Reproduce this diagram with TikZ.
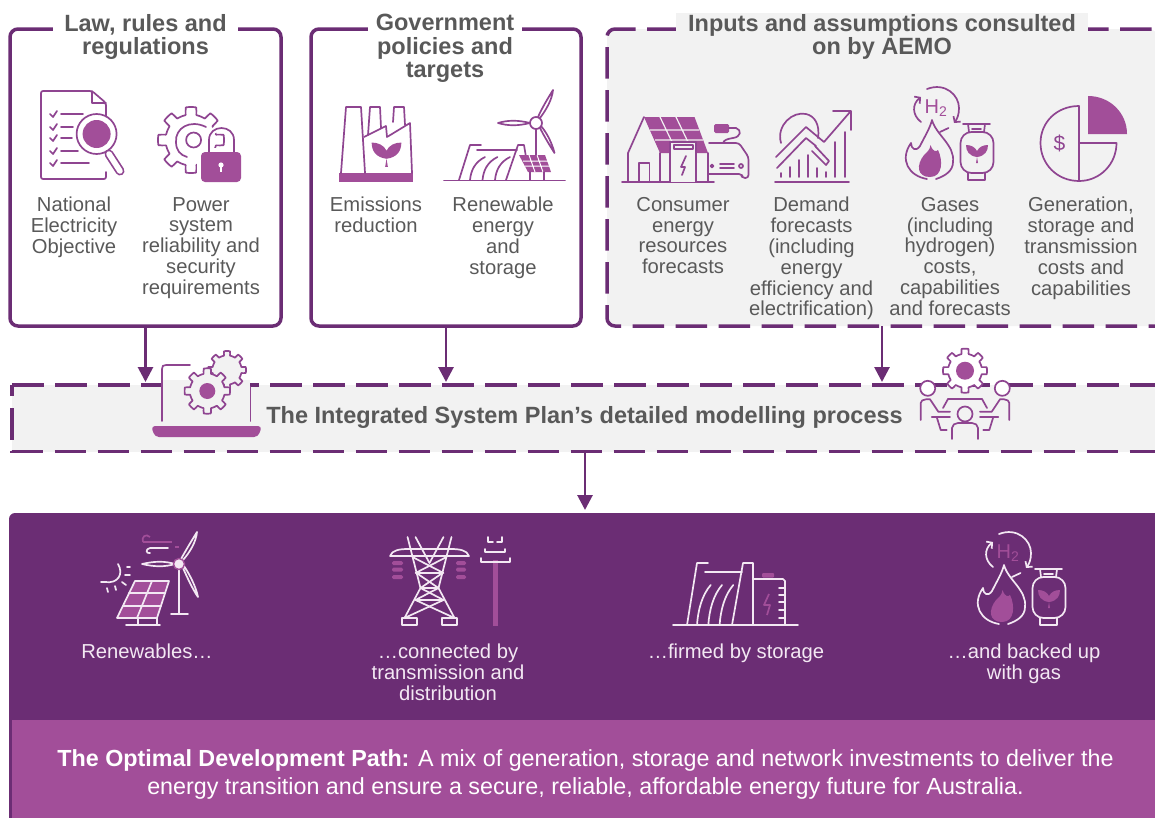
\documentclass[tikz,border=0pt]{standalone}
\usepackage{fontspec}
\setmainfont{Liberation Sans}
\usetikzlibrary{arrows.meta}
\definecolor{ispdark}{HTML}{6B2D74}
\definecolor{ispmid}{HTML}{A24E99}
\definecolor{ispline}{HTML}{8F4591}
\definecolor{ispgrey}{HTML}{F2F2F2}
\definecolor{isptext}{HTML}{595959}
\definecolor{ispwhite}{HTML}{F3E8F3}
\tikzset{
    framebox/.style = {draw = ispdark, line width = 3.5pt, rounded corners = 8pt, inner sep = 0pt, outer sep = 0pt},
    dashbox/.style = {fill = ispgrey, inner sep = 0pt, outer sep = 0pt},
    dashedge/.style = {draw = ispdark, line width = 3.5pt, dash pattern = on 31.5pt off 11.5pt},
    titlenode/.style = {font = \fontsize{23.5}{23.6}\selectfont\bfseries, text = isptext, align = center, anchor = north, inner ysep = 1pt},
    bodynode/.style = {font = \fontsize{20.2}{20.8}\selectfont, text = isptext, align = center, anchor = north, inner sep = 0pt},
    panelnode/.style = {font = \fontsize{20.2}{20.8}\selectfont, text = ispwhite, align = center, anchor = north, inner sep = 0pt},
    flow/.style = {draw = ispdark, line width = 2.8pt, shorten >= 3pt, -{Triangle[length = 15pt, width = 15pt]}},
    icon/.style = {draw = ispline, line width = 1.7pt, line join = round, line cap = round},
    wicon/.style = {draw = ispwhite, line width = 1.7pt, line join = round, line cap = round},
}
\providecommand\gearoutline[5]{% x, y, radius, teeth, style
    \draw[#5, shift = {(#1,#2)}] plot[domain = 0:360, samples = 241]
        (\x:{#3*(0.77+0.23*min(1,max(0,2.5*cos(#4*\x)+0.3)))}) -- cycle;
}
\providecommand\leafshape[4]{% x, y, colour, scale
    \fill[#3, shift = {(#1,#2)}, scale = #4] (0,5) .. controls (-8,4) and (-11,-1) .. (-11,-7)
        .. controls (-6,-7) and (-2,-5) .. (0,-1) .. controls (2,-5) and (6,-7) .. (11,-7)
        .. controls (11,-1) and (8,4) .. (0,5) -- (1,11) -- (-1,11) -- (0,5) -- cycle;
}
\providecommand\gasicon[6]{% shift x, shift y, line style, fill colour, H2 colour, name
    \begin{scope}[shift = {(#1,#2)}]
        \draw[#3] (927,179) .. controls (909,176) and (899,160) .. (911,143)
            .. controls (911,149) and (916,152) .. (920,146)
            .. controls (925,136) and (930,128) .. (932,120)
            .. controls (936,135) and (955,145) .. (953,162)
            .. controls (953,171) and (945,176) .. (936,179);
        \fill[#4] (930.5,145) .. controls (933,152) and (936,152) .. (938,150)
            .. controls (943,160) and (943,177) .. (930,177)
            .. controls (917,177) and (916,165) .. (924,155)
            .. controls (927,152) and (930,150) .. (930.5,145) -- cycle;
        \draw[#3] (940,132) -- (948.5,128);
        \draw[#3] (963,124) -- (990,124);
        \draw[#3] (972,129) -- (981,129);
        \draw[#3] (968,124) -- (969,132) (985,124) -- (984,132);
        \draw[#3, rounded corners = 11pt] (960.5,132) rectangle (993.5,173);
        \draw[#3] (968,173) -- (968,180) -- (985,180) -- (985,173);
        \leafshape{977}{152}{#4}{1}
        \node (#6) [font = \fontsize{20}{20}\selectfont, text = #5, inner sep = 0pt] at (936,108) {H\textsubscript{2}};
        \draw[#3, -{Straight Barb[length = 4pt, width = 9pt]}] (927,89) .. controls (945,82) and (959,95) .. (959,108) .. controls (959,115) and (957,119) .. (954,123);
        \draw[#3, -{Straight Barb[length = 4pt, width = 9pt]}] (921,122) .. controls (912,115) and (912,104) .. (921,97);
    \end{scope}
}

\begin{document}
\begin{tikzpicture}[x = 1pt, y = -1pt]

\useasboundingbox[clip] (0,0) rectangle (1155,817);

% the three source boxes
\node (lawbox) [framebox, minimum width = 271pt, minimum height = 297pt] at (145.5,177.5) {};
\node (policybox) [framebox, minimum width = 270pt, minimum height = 297pt] at (446,177.5) {};
\node (inputbox) [dashbox, rounded corners = 8pt, minimum width = 550pt, minimum height = 297pt] at (882,177.5) {};
\draw[dashedge, rounded corners = 8pt, dash phase = 37.5pt] (inputbox.north east) -- (inputbox.north west) -- (inputbox.south west) -- (inputbox.south east);

\node (lawtitle) [titlenode, fill = white, inner xsep = 11pt] at (145.5,13) {Law, rules and\\regulations};
\node (policytitle) [titlenode, fill = white, inner xsep = 7.5pt] at (445,13) {Government\\policies and\\targets};
\node (inputtitle) [titlenode, fill = ispgrey, inner xsep = 12pt] at (882,13) {Inputs and assumptions consulted\\on by AEMO};

\node (natobj) [bodynode] at (74,197) {National\\Electricity\\Objective};
\node (sysreq) [bodynode] at (201,197) {Power\\system\\reliability and\\security\\requirements};
\node (emis) [bodynode] at (376,197) {Emissions\\reduction};
\node (renew) [bodynode] at (503,197) {Renewable\\energy\\and\\storage};
\node (cons) [bodynode] at (683,197) {Consumer\\energy\\resources\\forecasts};
\node (dem) [bodynode] at (811.5,197) {Demand\\forecasts\\(including\\energy\\efficiency and\\electrification)};
\node (gases) [bodynode] at (950,197) {Gases\\(including\\hydrogen)\\costs,\\capabilities\\and forecasts};
\node (gencost) [bodynode] at (1081,197) {Generation,\\storage and\\transmission\\costs and\\capabilities};

% modelling band and bottom panel
\node (modelband) [dashbox, minimum width = 1146pt, minimum height = 66.5pt] at (585,418.25) {};
\draw[dashedge] (modelband.north west) -- (modelband.north east);
\draw[dashedge] (12,385) -- (12,396);
\draw[dashedge] (12,408) -- (modelband.south west) -- (modelband.south east);
\node (devpanel) [fill = ispdark, rounded corners = 6pt, inner sep = 0pt, outer sep = 0pt, minimum width = 1152pt, minimum height = 317pt] at (585,671.5) {};
\node (pathstrip) [fill = ispmid, inner sep = 0pt, outer sep = 0pt, minimum width = 1150pt, minimum height = 110pt] at (587,775) {};

\node (bandlabel) [font = \fontsize{23.5}{24}\selectfont\bfseries, text = isptext, inner sep = 0pt] at (584.5,417.5) {The Integrated System Plan’s detailed modelling process};
\node (pathlabel) [font = \fontsize{23.3}{28}\selectfont, text = white, align = center, inner sep = 0pt] at (585.5,774) {\textbf{The Optimal Development Path:} A mix of generation, storage and network investments to deliver the\\energy transition and ensure a secure, reliable, affordable energy future for Australia.};

\node (renewlabel) [panelnode] at (147,644) {Renewables…};
\node (translabel) [panelnode] at (448,644) {…connected by\\transmission and\\distribution};
\node (storelabel) [panelnode] at (736,644) {…firmed by storage};
\node (gaslabel) [panelnode] at (1024,644) {…and backed up\\with gas};

\draw[flow] (lawbox) -- (lawbox |- modelband.north);
\draw[flow] (policybox) -- (policybox |- modelband.north);
\draw[flow] (inputbox) -- (inputbox |- modelband.north);
\draw[flow] (modelband) -- (modelband |- devpanel.north);

% document and magnifier
\draw[icon, rounded corners = 2pt] (106,118) -- (106,103) -- (92,91) -- (41,91) -- (41,179) -- (106,179) -- (106,172);
\draw[icon] (92,91) -- (92,103) -- (106,103);
\foreach \YPOS/\XEND in {114/83,127/73,138/72,151/78,163/89}{%
    \draw[icon] (50,\YPOS) -- (53,\YPOS+3) -- (57,\YPOS-3);
    \draw[icon] (61,\YPOS) -- (\XEND,\YPOS);
    }
\draw[icon, fill = white] (96.6,134) circle (20);
\fill[ispmid] (96.6,134) circle (14);
\draw[ispline, line width = 9pt, line cap = round] (109,154) -- (120,171);
\draw[white, line width = 5.6pt, line cap = round] (109,154) -- (120,171);

% gear and lock
\gearoutline{191}{140}{33}{8}{icon}
\draw[icon] (193.6,140) circle (7.5);
\draw[icon] (206,127) .. controls (190,119) and (175,128) .. (176,142) .. controls (176,150) and (180,155) .. (187,157);
\fill[white, rounded corners = 3pt] (197,148) rectangle (245,186);
\draw[white, line width = 6pt] (209,152) -- (209,140) .. controls (209,124) and (234,124) .. (234,140) -- (234,152);
\draw[icon] (209,152) -- (209,140) .. controls (209,124) and (234,124) .. (234,140) -- (234,152);
\fill[ispmid, rounded corners = 4pt] (201,152) rectangle (241,182);
\fill[white] (221,165) circle (2.6);
\fill[white] (220,165) rectangle (222,172);

% factory
\fill[ispmid] (339,173) rectangle (413,182);
\draw[icon] (341,173) -- (346,107) -- (361,107) -- (365,173);
\draw[icon] (368,135) -- (370,107) -- (380,107) -- (381,128);
\draw[icon] (393,122) -- (394,107) -- (404,107) -- (405,125);
\draw[icon] (364,137) -- (386,126) -- (387,137) -- (410,123) -- (412,173);
\leafshape{386.5}{152}{ispmid}{1.35}

% dam, panel and turbine
\draw[icon] (444,180.5) -- (565,180.5);
\draw[icon] (459,180) -- (470,145) -- (481,145);
\draw[icon] (477,150) -- (517,150);
\draw[icon] (506,180) -- (518,145) -- (524,145) -- (526,157);
\foreach \XPOS in {0,12.5,25}{%
    \draw[icon, shift = {(\XPOS,0)}] (485,157) .. controls (475,162) and (471,170) .. (470,180);
    }
\fill[ispmid] (519,155) -- (545,155) -- (551,172) -- (528,172) -- cycle;
\draw[white, line width = 1pt] (523,161) -- (548,161) (525,166) -- (549,166) (529,155) -- (535,172) (537,155) -- (543,172);
\draw[icon] (530,172) -- (530,180) (544,172) -- (544,180);
\draw[icon] (536,129) -- (536,155);
\draw[icon, fill = white] (530,123) .. controls (518,120) and (508,120) .. (498,123) .. controls (508,126) and (518,126) .. (530,123);
\draw[icon, fill = white] (538,117) .. controls (542,108) and (548,98) .. (553,90) .. controls (552,100) and (546,110) .. (540,118);
\draw[icon, fill = white] (540,128) .. controls (544,136) and (550,146) .. (554.5,153) .. controls (552,143) and (547,133) .. (541,126);
\draw[icon, fill = white] (536,123) circle (6);

% house, charger and car
\fill[ispmid] (644,117) -- (694.5,117) -- (708,153) -- (660,153) -- cycle;
\draw[ispgrey, line width = 1.2pt] (650,130) -- (699,130) (655,140) -- (703,140) (660,117) -- (672,142) (676,117) -- (688,142);
\draw[icon] (622,182) -- (714,182);
\draw[icon] (628,182) -- (628,153) -- (644,117);
\draw[icon] (660,153) -- (660,182);
\draw[icon] (639,182) -- (639,163) -- (649.5,163) -- (649.5,182);
\draw[icon, fill = ispgrey] (670,182) -- (670,142) -- (696,142) -- (696,182);
\draw[icon] (674,145) rectangle (693,149);
\draw[icon] (686,156) -- (681,167) -- (685,167) -- (682,175);
\draw[icon] (708,153) -- (708,182);
\draw[icon, rounded corners = 3pt] (709,143) -- (739,143) -- (748.5,157) -- (748.5,178) -- (742,178) -- (742,174) -- (709,174);
\draw[icon] (720,164) -- (734,164) (720,168) -- (734,168);
\draw[icon] (741,166) circle (2) (712,166) circle (1.5);
\fill[ispmid, rounded corners = 1.5pt] (714,124) rectangle (729,133);
\draw[icon] (729,128) -- (736,128) .. controls (742,130) and (741,137) .. (733,138) .. controls (727,139) and (724,140) .. (723,143);

% demand arrow and magnifier
\draw[icon] (775,182) -- (849,182);
\draw[icon] (781,143) .. controls (776,125) and (793,111) .. (806,114) .. controls (815,116) and (820,125) .. (818,138);
\draw[icon] (812,151) -- (826,165) -- (829,161) -- (815,146);
\draw[icon] (776,157) -- (806,127) -- (824,142) -- (850,112);
\draw[icon] (777,168) -- (806,138) -- (816,146);
\draw[icon] (833,111) -- (851,111) -- (851,130);
\foreach \XPOS/\YPOS in {781/173,790/167,799/160,808/155,817/168,826/172,835/142,845/132}{%
    \draw[icon] (\XPOS,\YPOS) -- (\XPOS,177);
    }

% gases
\gasicon{0}{0}{icon}{ispmid}{ispmid}{hydrotop}

% pie
\draw[icon] (1079,106) .. controls (1057,106) and (1040.5,122) .. (1040.5,143) .. controls (1040.5,164) and (1057,181) .. (1079,181) -- (1079,106) -- cycle;
\draw[icon] (1079,143) -- (1116.5,143) .. controls (1116.5,164) and (1100,181) .. (1079,181);
\fill[ispmid] (1088,134) -- (1088,96) .. controls (1110,96) and (1127,113) .. (1127,134) -- cycle;
\node (dollar) [font = \fontsize{21}{21}\selectfont, text = ispline, inner sep = 0pt] at (1059.5,143) {\$};

% laptop and gears
\fill[ispgrey] (163,380) rectangle (250,425);
\draw[icon] (162,421) -- (162,369) .. controls (162,366) and (163,365) .. (166,365) -- (190,365);
\draw[icon] (250.4,387) -- (250.4,421);
\fill[ispmid, rounded corners = 4pt] (151,426) -- (262,426) -- (258,437) -- (155,437) -- cycle;
\gearoutline{227}{370}{19}{8}{icon, fill = ispgrey}
\gearoutline{207.3}{391}{22.7}{8}{icon, fill = ispgrey}
\fill[ispmid] (207.3,391) circle (8);

% people around a table
\foreach \SIGN in {1,-1}{%
    \begin{scope}[shift = {(965,0)}, xscale = \SIGN]
        \draw[icon, fill = white] (-37.3,388.3) circle (7.5);
        \draw[icon] (-44.3,420) -- (-44.3,403) .. controls (-44.3,401) and (-42,399.3) .. (-39,399.3) -- (-35,399.3) -- (-26.7,411.7) -- (-15,411.7);
        \draw[icon] (-22,408) -- (-17,399);
        \draw[icon] (-33.3,417) -- (-15,417);
        \draw[icon] (-28.3,417) -- (-24.3,430) -- (-18.3,430);
        \draw[icon] (-13,439) -- (-13,428) .. controls (-13,425) and (-10,423) .. (-7,423) -- (0,423);
    \end{scope}
    }
\draw[icon] (948,399) -- (982,399);
\draw[icon] (965,414) circle (7.5);
\gearoutline{965}{370.7}{22}{8}{icon, fill = white}
\fill[ispmid] (965,370.7) circle (9);

% bottom row: solar and turbine
\draw[wicon] (179,570) -- (179,614) (171,614) -- (188,614);
\draw[wicon] (175,564) .. controls (165,561) and (155,561) .. (142,564) .. controls (155,567) and (165,567) .. (175,564);
\draw[wicon] (181,559) .. controls (186,550) and (192,540) .. (197,532) .. controls (196,542) and (190,552) .. (183,560);
\draw[wicon] (183,568) .. controls (187,577) and (193,590) .. (198,597) .. controls (196,587) and (190,575) .. (184,566);
\draw[ispmid, fill = ispwhite, line width = 1.4pt] (179,564) circle (5.5);
\draw[ispmid, line width = 1.7pt] (143,542) -- (172,542);
\draw[ispmid, line width = 1.7pt] (143,542) .. controls (141,537) and (146,533) .. (150,537);
\draw[wicon] (150,548) -- (168,548) (150,548) .. controls (145,549) and (146,554) .. (150,553);
\draw[ispmid, line width = 1.7pt] (175,547) -- (179,547);
\draw[wicon] (118,564) .. controls (124,574) and (118,584) .. (105,582);
\foreach \XONE/\YONE/\XTWO/\YTWO in {127/567/130/567,125/575/130/575,122/582/126/585,115/586/116/590,107/588/108/592,101/582/105/582}{%
    \draw[wicon] (\XONE,\YONE) -- (\XTWO,\YTWO);
    }
\fill[ispmid] (135,581) -- (169,581) -- (157,618) -- (117,618) -- cycle;
\draw[wicon] (135,581) -- (169,581) -- (157,618) -- (117,618) -- cycle;
\draw[wicon] (129,593) -- (165,593) (123,606) -- (161,606) (152,581) -- (137,618);
\draw[wicon] (138,618) -- (138,625) (157,618) -- (157,625) (126,625) -- (160,625);

% bottom row: tower and pole
\foreach \YPOS in {563,569.5,577}{%
    \fill[ispmid, rounded corners = 1.5pt] (392,\YPOS-2) rectangle (403,\YPOS+2);
    \fill[ispmid, rounded corners = 1.5pt] (456,\YPOS-2) rectangle (466,\YPOS+2);
    }
\draw[wicon] (390,556) .. controls (392,550) and (400,549) .. (408,549) -- (451,549) .. controls (459,549) and (467,550) .. (469,556) -- cycle;
\foreach \SIGN in {1,-1}{%
    \begin{scope}[shift = {(429.5,0)}, xscale = \SIGN]
        \draw[wicon] (-22,537) -- (-9,588) -- (-25,618);
        \draw[wicon] (-14,537) -- (0,563);
        \draw[wicon] (-17,557) -- (14,573);
        \draw[wicon] (-13,573) -- (9,588);
        \draw[wicon] (-9,588) -- (14,600);
        \draw[wicon] (-14,600) -- (25,618);
        \draw[wicon] (-13,600) -- (13,600);
        \draw[wicon] (-13,573) -- (13,573);
        \draw[wicon] (-9,588) -- (9,588);
    \end{scope}
    }
\draw[wicon] (402,618) rectangle (417,625);
\draw[wicon] (442,618) rectangle (457,625);
\fill[ispmid] (493,560) rectangle (498,626);
\draw[wicon] (481,558) -- (481,562) -- (510,562) -- (510,558);
\draw[wicon] (485,549) -- (485,552) -- (505,552) -- (505,549);
\draw[wicon] (488,537) -- (488,542) -- (493,542) (497,542) -- (502,542) -- (502,537);

% bottom row: dam and battery
\draw[wicon] (673,625) -- (798,625);
\draw[wicon] (687,625) -- (697,563) -- (708,563);
\draw[wicon] (705,572) -- (742,572);
\draw[wicon] (732,625) -- (743,563) -- (753,563) -- (753,625);
\foreach \XPOS in {0,11.3,22.6}{%
    \draw[wicon, shift = {(\XPOS,0)}] (710.7,585) .. controls (702,595) and (698,610) .. (697,625);
    }
\draw[wicon] (753,579) -- (783,579) -- (785,581) -- (785,625);
\foreach \YPOS in {588,595,602,610,618}{%
    \draw[wicon] (779,\YPOS) -- (785,\YPOS);
    }
\fill[ispmid, rounded corners = 1pt] (762,573) rectangle (774,577.5);
\draw[ispmid, line width = 1.7pt, line join = round] (769,594) -- (764,605) -- (770,605) -- (767,615);

% bottom row: gases
\gasicon{72}{445}{wicon}{ispmid}{ispmid}{hydrobottom}

\end{tikzpicture}
\end{document}
